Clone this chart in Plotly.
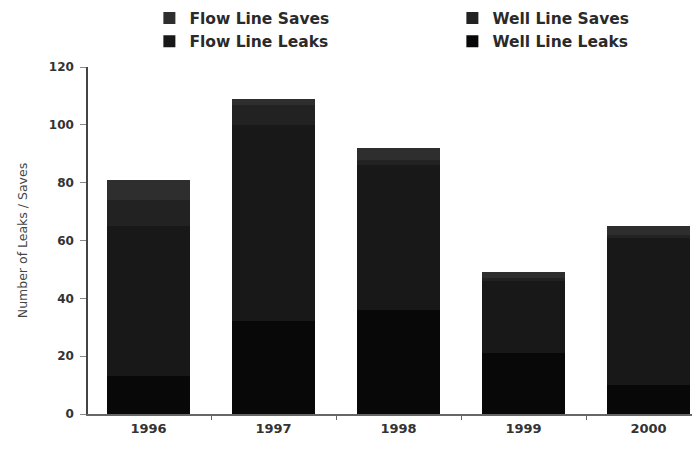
import plotly.graph_objects as go

years = ["1996", "1997", "1998", "1999", "2000"]

# stacked bottom to top
well_line_leaks = [13, 32, 36, 21, 10]
flow_line_leaks = [52, 68, 50, 25, 51]
well_line_saves = [9, 7, 2, 1, 1]
flow_line_saves = [7, 2, 4, 2, 3]

series = [
    ("Well Line Leaks", well_line_leaks, "#080808"),
    ("Flow Line Leaks", flow_line_leaks, "#181818"),
    ("Well Line Saves", well_line_saves, "#222222"),
    ("Flow Line Saves", flow_line_saves, "#2e2e2e"),
]

fig = go.Figure()

for name, vals, color in series:
    fig.add_trace(
        go.Bar(
            x=years,
            y=vals,
            name=name,
            width=0.66,
            marker=dict(color=color, line=dict(width=0)),
        )
    )

# page body adds an 8px offset, margins below compensate for it
fig.update_layout(
    barmode="stack",
    width=700,
    height=453,
    margin=dict(l=80, r=0, t=59, b=47, autoexpand=False),
    plot_bgcolor="white",
    paper_bgcolor="white",
    font=dict(family="DejaVu Sans, Arial", color="#333333"),
    showlegend=True,
    legend=dict(
        orientation="h",
        traceorder="reversed",
        x=0.099,
        xanchor="left",
        y=1.189,
        yanchor="top",
        entrywidth=258,
        entrywidthmode="pixels",
        itemwidth=30,
        font=dict(size=15.5, weight="bold", color="#2a2a2a"),
        bgcolor="rgba(0,0,0,0)",
    ),
    xaxis=dict(
        range=[-0.484, 4.476],
        automargin=False,
        showline=True,
        linecolor="#666666",
        linewidth=1.5,
        ticks="outside",
        tickson="boundaries",
        ticklen=4,
        tickcolor="#666666",
        ticklabelstandoff=2,
        tickfont=dict(size=13, weight="bold", color="#333333"),
        showgrid=False,
    ),
    yaxis=dict(
        range=[0, 120],
        automargin=False,
        tickvals=[0, 20, 40, 60, 80, 100, 120],
        showline=True,
        linecolor="#444444",
        linewidth=1.5,
        ticks="outside",
        ticklen=6,
        tickcolor="#888888",
        ticklabelstandoff=4,
        tickfont=dict(size=12, weight="bold", color="#333333"),
        showgrid=False,
        zeroline=False,
        title=dict(
            text="Number of Leaks / Saves",
            font=dict(size=12.5, color="#444444"),
            standoff=18,
        ),
    ),
)

fig.write_html("out.html")
